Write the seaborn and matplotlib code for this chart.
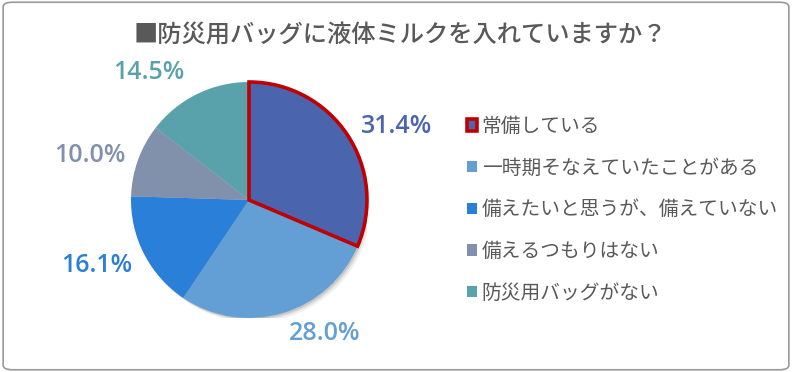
import matplotlib
matplotlib.use("Agg")
import numpy as np
import matplotlib.pyplot as plt
import seaborn as sns
from matplotlib.patches import FancyBboxPatch, Circle

sns.set_theme(style="white")
plt.rcParams['font.family'] = ['Noto Sans CJK JP', 'DejaVu Sans']

categories = ['常備している', '一時期そなえていたことがある', '備えたいと思うが、備えていない',
              '備えるつもりはない', '防災用バッグがない']
values = [31.4, 28.0, 16.1, 10.0, 14.5]
colors = ['#4a65ad', '#639fd5', '#2a7fd8', '#8291ab', '#5aa2ab']
title = '■防災用バッグに液体ミルクを入れていますか？'

# label placement tweaks (angle shift in degrees, distance in radii)
label_adj = [(-7, 1.40), (13, 1.30), (-4, 1.40), (4, 1.40), (12, 1.37)]

fig = plt.figure(figsize=(7.92, 3.72), dpi=100)
fig.patch.set_facecolor('white')

frame = FancyBboxPatch((0.004, 0.006), 0.992, 0.988, boxstyle="round,pad=0,rounding_size=0.012",
                       transform=fig.transFigure, facecolor='white', edgecolor='#9a9a9a',
                       linewidth=1.2, zorder=-1)
fig.patches.append(frame)

cx, cy, r = 249, 200, 118
W, H = 792, 372
ax = fig.add_axes([(cx - r) / W, (H - cy - r) / H, 2 * r / W, 2 * r / H])

# soft shadow behind the pie
for k, a in [(0.035, 0.06), (0.022, 0.08), (0.012, 0.1)]:
    ax.add_patch(Circle((k, -k), 1.0, facecolor='#000000', alpha=a, linewidth=0, zorder=0))

wedges, texts = ax.pie(values, colors=colors, startangle=90, counterclock=False, radius=1,
                       wedgeprops=dict(linewidth=0, zorder=2))
wedges[0].set_edgecolor('#c00000')
wedges[0].set_linewidth(2.6)
wedges[0].set_zorder(3)

for w, v, c, (da, dist) in zip(wedges, values, colors, label_adj):
    ang = np.deg2rad((w.theta1 + w.theta2) / 2 + da)
    ax.text(dist * np.cos(ang), dist * np.sin(ang), f'{v:.1f}%', ha='center', va='center',
            color=c, fontsize=18, fontweight='semibold', family=['Open Sans', 'DejaVu Sans'])

ax.set_xlim(-1, 1)
ax.set_ylim(-1, 1)
ax.set_aspect('equal')
ax.axis('off')

fig.text(400 / W, 1 - 35 / H, title, ha='center', va='center', fontsize=17.5,
         color='#595959', fontweight='medium')

leg = fig.legend(wedges, categories, loc='upper left', bbox_to_anchor=(459 / W, 1 - 108 / H),
                 frameon=False, fontsize=14.2, labelcolor='#595959', handlelength=0.5,
                 handleheight=0.5, handletextpad=0.25, labelspacing=1.05, borderaxespad=0)

fig.savefig('out.png', dpi=100, facecolor='white')
